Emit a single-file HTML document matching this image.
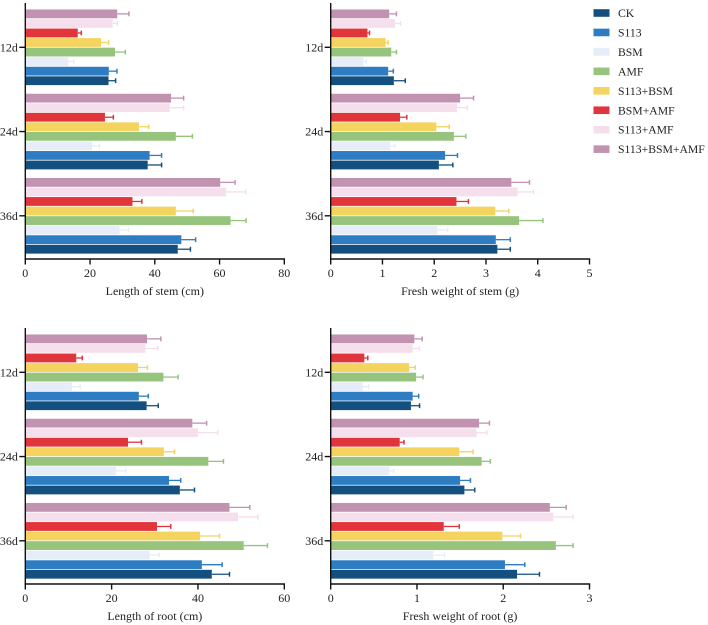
<!DOCTYPE html>
<html lang="en">
<head>
<meta charset="utf-8">
<title>Growth indicators by treatment</title>
<style>
html,body{margin:0;padding:0;background:#fff;}
#figure{display:block;width:708px;height:625px;font-family:"Liberation Serif",serif;color:#222;filter:blur(0.3px);}
text{font-family:"Liberation Serif",serif;fill:#222;}
</style>
</head>
<body>
<svg id="figure" width="708" height="625" viewBox="0 0 708 625" xmlns="http://www.w3.org/2000/svg"></svg>
<script>
const categories = ['12d', '24d', '36d'];
const seriesNames = ['CK', 'S113', 'BSM', 'AMF', 'S113+BSM', 'BSM+AMF', 'S113+AMF', 'S113+BSM+AMF'];
const seriesColors = ['#14507f', '#2e7dc2', '#e6edf9', '#96c47c', '#f4d35e', '#e0353b', '#f6dfec', '#c193b1'];

// Each row is one day; columns follow seriesNames.
const stemLengthMeans = [
  [25.7, 25.8, 13.3, 27.7, 23.4, 16.2, 27.0, 28.4],
  [37.8, 38.4, 20.6, 46.5, 35.1, 24.6, 44.6, 45.0],
  [47.1, 48.2, 29.1, 63.4, 46.5, 33.1, 62.0, 60.2]
];
const stemLengthErrors = [
  [2.2, 2.5, 1.7, 3.2, 2.3, 1.1, 1.4, 3.6],
  [4.3, 3.7, 2.3, 5.1, 3.0, 2.6, 4.3, 3.9],
  [3.9, 4.4, 2.8, 4.8, 5.4, 2.9, 6.1, 4.6]
];
const stemLengthTicks = [0, 20, 40, 60, 80];

const stemWeightMeans = [
  [1.22, 1.11, 0.63, 1.17, 1.06, 0.71, 1.24, 1.13],
  [2.09, 2.21, 1.15, 2.38, 2.04, 1.34, 2.44, 2.50],
  [3.22, 3.19, 2.06, 3.64, 3.18, 2.43, 3.61, 3.49]
];
const stemWeightErrors = [
  [0.22, 0.10, 0.06, 0.10, 0.05, 0.04, 0.11, 0.14],
  [0.27, 0.24, 0.09, 0.23, 0.25, 0.13, 0.20, 0.26],
  [0.25, 0.28, 0.20, 0.46, 0.26, 0.23, 0.31, 0.35]
];
const stemWeightTicks = [0, 1, 2, 3, 4, 5];

const rootLengthMeans = [
  [28.1, 26.3, 10.8, 32.0, 26.1, 11.8, 27.8, 28.2],
  [35.8, 33.3, 21.0, 42.4, 32.1, 23.8, 40.0, 38.7],
  [43.2, 40.9, 28.8, 50.6, 40.5, 30.5, 49.3, 47.3]
];
const rootLengthErrors = [
  [2.7, 2.2, 1.9, 3.4, 2.2, 1.4, 2.9, 3.2],
  [3.4, 2.7, 2.3, 3.5, 2.5, 3.1, 4.6, 3.3],
  [4.1, 4.7, 2.2, 5.5, 4.5, 3.2, 4.6, 4.7]
];
const rootLengthTicks = [0, 20, 40, 60];

const rootWeightMeans = [
  [0.93, 0.95, 0.37, 0.99, 0.91, 0.39, 0.95, 0.97],
  [1.55, 1.50, 0.68, 1.75, 1.49, 0.80, 1.69, 1.72],
  [2.16, 2.02, 1.19, 2.61, 1.99, 1.31, 2.58, 2.54]
];
const rootWeightErrors = [
  [0.10, 0.07, 0.07, 0.08, 0.07, 0.04, 0.08, 0.09],
  [0.12, 0.12, 0.05, 0.10, 0.16, 0.05, 0.12, 0.12],
  [0.26, 0.23, 0.13, 0.20, 0.21, 0.18, 0.23, 0.19]
];
const rootWeightTicks = [0, 1, 2, 3];

const SVG_NS = 'http://www.w3.org/2000/svg';
const figure = document.getElementById('figure');

function make(parent, tag, attrs, content) {
  const el = document.createElementNS(SVG_NS, tag);
  for (const key in attrs) el.setAttribute(key, attrs[key]);
  if (content !== undefined) el.textContent = content;
  parent.appendChild(el);
  return el;
}

function drawPanel(cfg) {
  const group = make(figure, 'g', {});
  
  

  const maxTick = cfg.ticks[cfg.ticks.length - 1];
  const xScale = v => cfg.left + (v / maxTick) * (cfg.right - cfg.left);
  const step = 84.25;
  const slot = 9.55;
  const barHeight = 8.8;
  const groupCenter = c => cfg.bottom - 43.2 - step * (categories.length - 1 - c);
  const barCenter = (c, s) => groupCenter(c) + (3.5 - s) * slot;

  categories.forEach((cat, c) => {
    seriesNames.forEach((series, s) => {
      const mean = cfg.means[c][s];
      const err = cfg.errors[c][s];
      const cy = barCenter(c, s);
      const color = seriesColors[s];
      const whisker = make(group, 'line', {x1: xScale(mean), x2: xScale(mean + err), y1: cy, y2: cy, stroke: color, 'stroke-width': 1.3});
      
      
      const cap = make(group, 'line', {x1: xScale(mean + err), x2: xScale(mean + err), y1: cy - 2.4, y2: cy + 2.4, stroke: color, 'stroke-width': 1.5});
      
      
      const bar = make(group, 'rect', {x: xScale(0), y: cy - barHeight / 2, width: xScale(mean) - xScale(0), height: barHeight, fill: color});
      
      
    });
  });

  const yAxis = make(group, 'line', {x1: cfg.left, x2: cfg.left, y1: cfg.bottom - 256, y2: cfg.bottom + 0.7, stroke: '#111', 'stroke-width': 1.4});
  
  
  const xAxis = make(group, 'line', {x1: cfg.left - 0.7, x2: cfg.right + 0.7, y1: cfg.bottom, y2: cfg.bottom, stroke: '#111', 'stroke-width': 1.4});
  
  

  categories.forEach((cat, c) => {
    const cy = groupCenter(c);
    const tick = make(group, 'line', {x1: cfg.left - 6, x2: cfg.left, y1: cy, y2: cy, stroke: '#111', 'stroke-width': 1.4});
    
    
    const label = make(group, 'text', {x: cfg.left - 7.5, y: cy + 4, 'text-anchor': 'end', 'font-size': 12}, cat);
    
    
  });

  cfg.ticks.forEach(value => {
    const x = xScale(value);
    const tick = make(group, 'line', {x1: x, x2: x, y1: cfg.bottom, y2: cfg.bottom + 5.5, stroke: '#111', 'stroke-width': 1.4});
    
    
    const label = make(group, 'text', {x: x, y: cfg.bottom + 18, 'text-anchor': 'middle', 'font-size': 12}, String(value));
    
    
  });

  const title = make(group, 'text', {x: (cfg.left + cfg.right) / 2, y: cfg.bottom + 36, 'text-anchor': 'middle', 'font-size': 12}, cfg.title);
  
  
}

drawPanel({name: 'stem-length-panel', title: 'Length of stem (cm)', means: stemLengthMeans, errors: stemLengthErrors, ticks: stemLengthTicks, left: 25.3, right: 284.3, bottom: 259});
drawPanel({name: 'stem-weight-panel', title: 'Fresh weight of stem (g)', means: stemWeightMeans, errors: stemWeightErrors, ticks: stemWeightTicks, left: 330.7, right: 589.5, bottom: 259});
drawPanel({name: 'root-length-panel', title: 'Length of root (cm)', means: rootLengthMeans, errors: rootLengthErrors, ticks: rootLengthTicks, left: 25.3, right: 284.3, bottom: 584});
drawPanel({name: 'root-weight-panel', title: 'Fresh weight of root (g)', means: rootWeightMeans, errors: rootWeightErrors, ticks: rootWeightTicks, left: 330.7, right: 589.5, bottom: 584});

const legend = make(figure, 'g', {});


seriesNames.forEach((series, s) => {
  const cy = 13 + s * 19.45;
  const swatch = make(legend, 'rect', {x: 593.5, y: cy - 3.8, width: 16, height: 7.6, fill: seriesColors[s]});
  
  
  const label = make(legend, 'text', {x: 618, y: cy + 4, 'font-size': 11.7}, series);
  
  
});
</script>
</body>
</html>
